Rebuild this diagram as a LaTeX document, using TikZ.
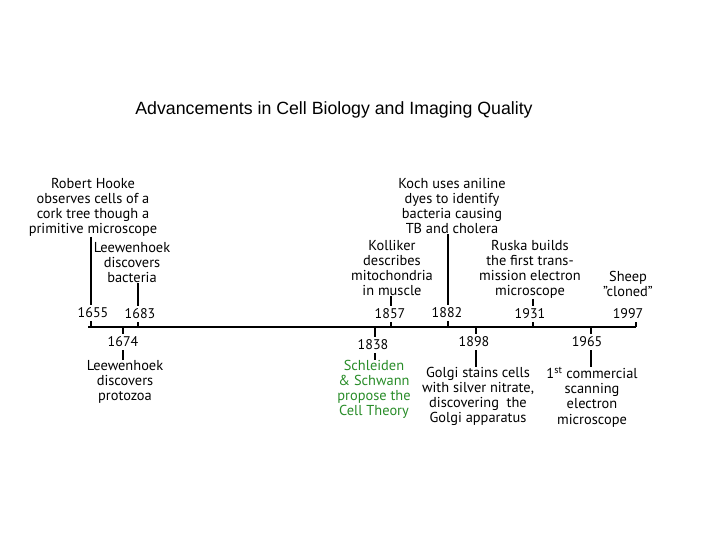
\documentclass[tikz,border=0pt]{standalone}
\usepackage{fontspec}
\setmainfont{PT Sans}
\newfontfamily\arialf{Liberation Sans}
\begin{document}
\begin{tikzpicture}[x=0.75pt,y=-0.75pt]
\tikzset{ev/.style={align=center,font=\fontsize{10.8}{11.3}\selectfont,inner sep=0pt},
yr/.style={font=\fontsize{10.5}{11}\selectfont,inner sep=2pt},
tk/.style={line width=1pt}}
\useasboundingbox (0,0) rectangle (720,540);
\node[font=\arialf\fontsize{13.3}{15}\selectfont] (title) at (334,110) {Advancements in Cell Biology and Imaging Quality};
\coordinate (L) at (88,327); \coordinate (R) at (636,327);
\draw[line width=1.8pt] (L) -- (R);
% above
\node[ev,anchor=north] (hooke) at (93,178) {Robert Hooke\\observes cells of a\\cork tree though a\\primitive microscope};
\node[ev,anchor=north] (lb) at (132,242) {Leewenhoek\\discovers\\bacteria};
\node[ev,anchor=north] (koch) at (452,178) {Koch uses aniline\\dyes to identify\\bacteria causing\\TB and cholera};
\node[ev,anchor=north] (koll) at (392,240) {Kolliker\\describes\\mitochondria\\in muscle};
\node[ev,anchor=north] (ruska) at (530,240) {Ruska builds\\the first trans-\\mission electron\\microscope};
\node[ev,anchor=north] (sheep) at (628,271) {Sheep\\"cloned"};
\node[yr] (y1655) at (93,313) {1655};
\node[yr] (y1683) at (140,314) {1683};
\node[yr] (y1857) at (390,314) {1857};
\node[yr] (y1882) at (447,313) {1882};
\node[yr] (y1931) at (530,314) {1931};
\node[yr] (y1997) at (628,314) {1997};
\coordinate (t1655) at (91,327); \coordinate (t1683) at (138,327);
\coordinate (t1857) at (391,327); \coordinate (t1882) at (448,327);
\coordinate (t1931) at (533,327);
\draw[tk] (hooke.south -| t1655) -- (y1655.north -| t1655);
\draw[tk] (y1655.south -| t1655) -- (t1655);
\draw[tk] (lb.south -| t1683) -- (y1683.north -| t1683);
\draw[tk] (y1683.south -| t1683) -- (t1683);
\draw[tk] (koll.south -| t1857) -- (y1857.north -| t1857);
\draw[tk] (y1857.south -| t1857) -- (t1857);
\draw[line width=1.6pt] (koch.south -| t1882) -- (y1882.north -| t1882);
\draw[line width=1.6pt] (y1882.south -| t1882) -- (t1882);
\draw[tk] (ruska.south -| t1931) -- (y1931.north -| t1931);
\draw[tk] (y1931.south -| t1931) -- (t1931);
\draw[tk] (R) -- ++(0,-5);
% below
\node[yr] (y1674) at (123,342) {1674};
\node[yr] (y1838) at (373,345) {1838};
\node[yr] (y1898) at (474,342) {1898};
\node[yr] (y1965) at (587,342) {1965};
\node[ev,anchor=north] (lp) at (125,360) {Leewenhoek\\discovers\\protozoa};
\node[ev,anchor=north,text={rgb,255:red,40;green,140;blue,40}] (sch) at (374,360) {Schleiden\\\& Schwann\\propose the\\Cell Theory};
\node[ev,anchor=north] (golgi) at (478,367) {Golgi stains cells\\with silver nitrate,\\discovering\ \ the\\Golgi apparatus};
\node[ev,anchor=north] (sem) at (592,367) {1\textsuperscript{st} commercial\\scanning\\electron\\microscope};
\coordinate (b1674) at (123,327); \coordinate (b1838) at (375,327);
\coordinate (b1898) at (476,327); \coordinate (b1965) at (591,327);
\draw[tk] (b1674) -- (y1674.north -| b1674);
\draw[tk] (y1674.south -| b1674) -- (lp.north -| b1674);
\draw[tk] (b1838) -- (y1838.north -| b1838);
\draw[tk] (y1838.south -| b1838) -- (sch.north -| b1838);
\draw[tk] (b1898) -- (y1898.north -| b1898);
\draw[tk] (y1898.south -| b1898) -- (golgi.north -| b1898);
\draw[tk] (b1965) -- (y1965.north -| b1965);
\draw[tk] (y1965.south -| b1965) -- (sem.north -| b1965);
\end{tikzpicture}
\end{document}
